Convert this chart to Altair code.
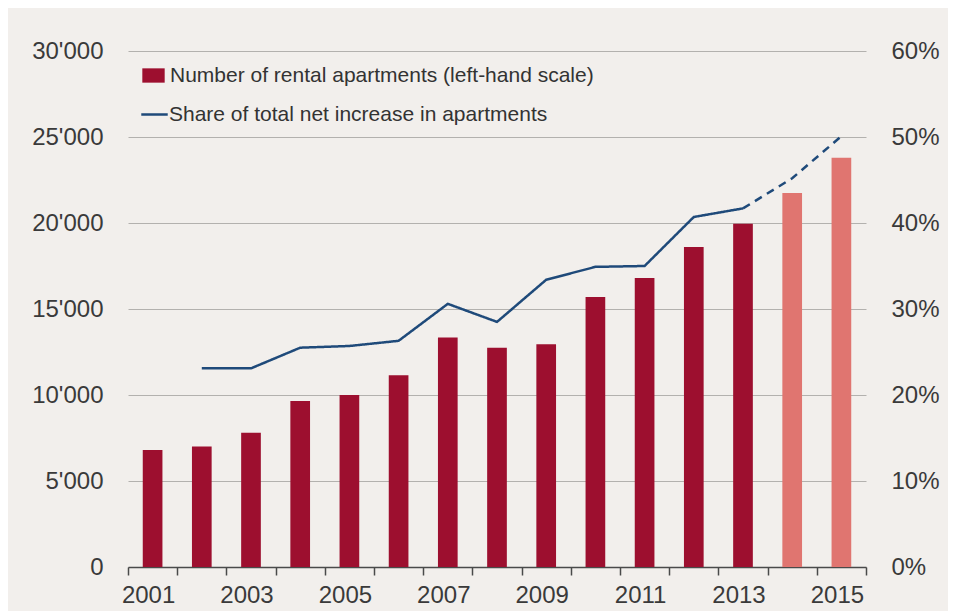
import altair as alt
import pandas as pd

# ---- data ----
years = list(range(2001, 2016))
rentals = [6800, 7000, 7800, 9650, 10000, 11150, 13350, 12750, 12950,
           15700, 16800, 18600, 19950, 21750, 23800]
bar_status = ["actual"] * 13 + ["forecast"] * 2

share_years = list(range(2002, 2016))
share_pct = [23.1, 23.1, 25.5, 25.7, 26.3, 30.6, 28.5, 33.4, 34.9, 35.0,
             40.7, 41.7, 45.2, 50.1]
last_actual_year = 2013

left_ticks = [0, 5000, 10000, 15000, 20000, 25000, 30000]
right_ticks = [0, 10, 20, 30, 40, 50, 60]

BAR_LABEL = "Number of rental apartments (left-hand scale)"
FORECAST_LABEL = "Forecast"
LINE_LABEL = "Share of total net increase in apartments"

# ---- tables ----
bars_df = pd.DataFrame({
    "year": years,
    "rentals": rentals,
    "kind": [BAR_LABEL if s == "actual" else FORECAST_LABEL for s in bar_status],
})

rows = []
for y, v in zip(share_years, share_pct):
    if y <= last_actual_year:
        rows.append({"year": y, "share": v, "seg": "actual", "series": LINE_LABEL})
    if y >= last_actual_year:
        rows.append({"year": y, "share": v, "seg": "projected", "series": LINE_LABEL})
line_df = pd.DataFrame(rows)

FONT = "Liberation Sans"
TEXT = "#3a3a3a"
DARK_RED = "#9d0f2f"
LIGHT_RED = "#e07570"
BLUE = "#1f4a7a"

x_scale = alt.Scale(domain=years, paddingInner=0, paddingOuter=0)
x_axis = alt.Axis(title=None, labelAngle=0,
                  labelExpr="datum.value % 2 == 1 ? datum.label : ''",
                  tickBand="extent", labelOffset=-4.5,
                  tickSize=8, tickColor="#4a4a4a",
                  tickWidth=1.5, domainColor="#4a4a4a", domainWidth=1.5,
                  labelPadding=8, labelFontSize=24, labelColor=TEXT,
                  labelFont=FONT, grid=False)

bars = alt.Chart(bars_df).mark_bar(width=alt.RelativeBandSize(0.4)).encode(
    x=alt.X("year:O", scale=x_scale, axis=x_axis),
    y=alt.Y("rentals:Q", scale=alt.Scale(domain=[0, 30000]),
            axis=alt.Axis(title=None, orient="left", values=left_ticks,
                          labelExpr="replace(format(datum.value, ','), ',', \"'\")",
                          grid=True, gridColor="#b3b1ae", gridWidth=1.2,
                          domain=False, ticks=False, labelPadding=25,
                          labelFontSize=24, labelColor=TEXT, labelFont=FONT)),
    fill=alt.Fill("kind:N",
                  scale=alt.Scale(domain=[BAR_LABEL, FORECAST_LABEL],
                                  range=[DARK_RED, LIGHT_RED]),
                  legend=alt.Legend(values=[BAR_LABEL], title=None, orient="none",
                                    legendX=14, legendY=13, padding=0,
                                    symbolType="M-1,-0.64L1,-0.64L1,0.64L-1,0.64Z",
                                    symbolSize=500, symbolStrokeWidth=0,
                                    labelFontSize=21, labelColor="#333333",
                                    labelFont=FONT, labelOffset=5,
                                    labelLimit=600)),
)

line = alt.Chart(line_df).mark_line(strokeWidth=2.5).encode(
    x=alt.X("year:O", scale=x_scale, axis=x_axis),
    y=alt.Y("share:Q", scale=alt.Scale(domain=[0, 60]),
            axis=alt.Axis(title=None, orient="right", values=right_ticks,
                          labelExpr="datum.value + '%'", grid=False,
                          domain=False, ticks=False, labelPadding=25,
                          labelFontSize=24, labelColor=TEXT, labelFont=FONT)),
    stroke=alt.Stroke("series:N",
                      scale=alt.Scale(domain=[LINE_LABEL], range=[BLUE]),
                      legend=alt.Legend(title=None, orient="none",
                                        legendX=12, legendY=49, padding=0,
                                        symbolType="stroke", symbolSize=700,
                                        symbolStrokeWidth=2.5,
                                        labelFontSize=21, labelColor="#333333",
                                        labelFont=FONT, labelOffset=0,
                                        labelLimit=600)),
    strokeDash=alt.StrokeDash("seg:N",
                              scale=alt.Scale(domain=["actual", "projected"],
                                              range=[[1, 0], [8, 6]]),
                              legend=None),
    detail="seg:N",
)

chart = alt.layer(bars, line).resolve_scale(y="independent").properties(
    width=738, height=516,
    autosize=alt.AutoSizeParams(type="none"),
    padding={"left": 120, "top": 43, "right": 82, "bottom": 44},
    background="#f2efec",
).configure_view(stroke=None)

chart.save("out.html", embed_options={"renderer": "svg", "actions": False})
